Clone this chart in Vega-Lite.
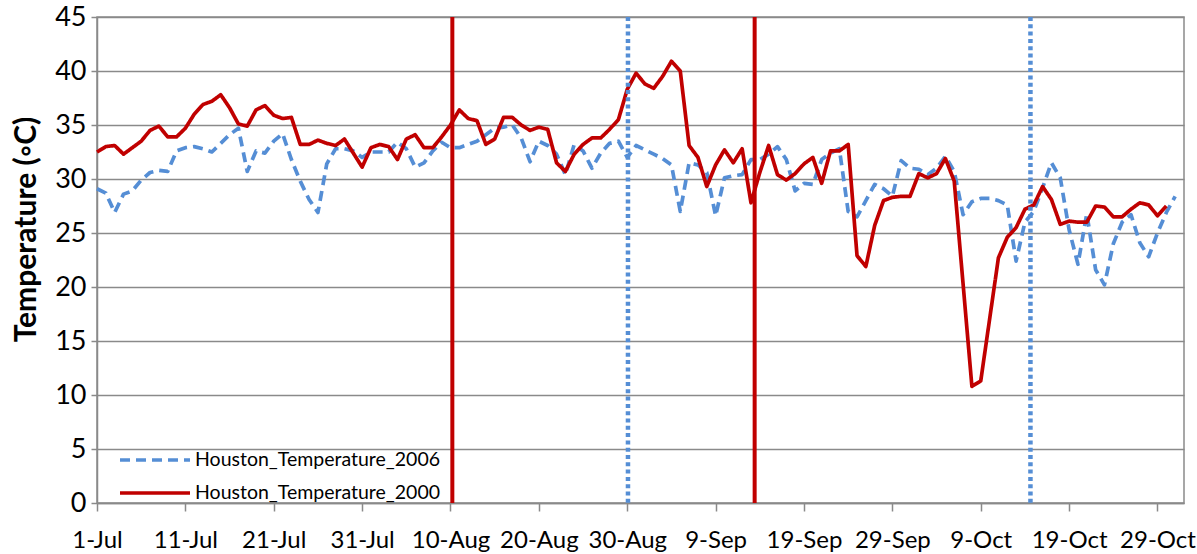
{
  "$schema": "https://vega.github.io/schema/vega-lite/v6.json",
  "width": 1087,
  "height": 486,
  "autosize": {"type": "none"},
  "padding": {"left": 97, "top": 17, "right": 13, "bottom": 51},
  "background": "white",
  "config": {
    "font": "Lato",
    "view": {"stroke": "#8a8a8a", "strokeWidth": 1.5},
    "axis": {"labelFont": "Lato", "labelColor": "#000", "domainColor": "#8a8a8a", "domainWidth": 1.5, "tickColor": "#8a8a8a", "tickWidth": 1.5, "gridColor": "#8a8a8a", "gridWidth": 1.5}
  },
  "data": {
    "values": [
      {"date": "2000-07-01", "Houston_Temperature_2006": 29.1, "Houston_Temperature_2000": 32.5},
      {"date": "2000-07-02", "Houston_Temperature_2006": 28.7, "Houston_Temperature_2000": 33.0},
      {"date": "2000-07-03", "Houston_Temperature_2006": 26.9, "Houston_Temperature_2000": 33.1},
      {"date": "2000-07-04", "Houston_Temperature_2006": 28.6, "Houston_Temperature_2000": 32.3},
      {"date": "2000-07-05", "Houston_Temperature_2006": 28.9, "Houston_Temperature_2000": 32.9},
      {"date": "2000-07-06", "Houston_Temperature_2006": 29.9, "Houston_Temperature_2000": 33.5},
      {"date": "2000-07-07", "Houston_Temperature_2006": 30.6, "Houston_Temperature_2000": 34.5},
      {"date": "2000-07-08", "Houston_Temperature_2006": 30.8, "Houston_Temperature_2000": 34.9},
      {"date": "2000-07-09", "Houston_Temperature_2006": 30.7, "Houston_Temperature_2000": 33.9},
      {"date": "2000-07-10", "Houston_Temperature_2006": 32.6, "Houston_Temperature_2000": 33.9},
      {"date": "2000-07-11", "Houston_Temperature_2006": 32.9, "Houston_Temperature_2000": 34.7},
      {"date": "2000-07-12", "Houston_Temperature_2006": 33.0, "Houston_Temperature_2000": 36.0},
      {"date": "2000-07-13", "Houston_Temperature_2006": 32.8, "Houston_Temperature_2000": 36.9},
      {"date": "2000-07-14", "Houston_Temperature_2006": 32.5, "Houston_Temperature_2000": 37.2},
      {"date": "2000-07-15", "Houston_Temperature_2006": 33.3, "Houston_Temperature_2000": 37.8},
      {"date": "2000-07-16", "Houston_Temperature_2006": 34.1, "Houston_Temperature_2000": 36.6},
      {"date": "2000-07-17", "Houston_Temperature_2006": 34.7, "Houston_Temperature_2000": 35.1},
      {"date": "2000-07-18", "Houston_Temperature_2006": 30.7, "Houston_Temperature_2000": 34.9},
      {"date": "2000-07-19", "Houston_Temperature_2006": 32.6, "Houston_Temperature_2000": 36.4},
      {"date": "2000-07-20", "Houston_Temperature_2006": 32.4, "Houston_Temperature_2000": 36.8},
      {"date": "2000-07-21", "Houston_Temperature_2006": 33.5, "Houston_Temperature_2000": 35.9},
      {"date": "2000-07-22", "Houston_Temperature_2006": 34.2, "Houston_Temperature_2000": 35.6},
      {"date": "2000-07-23", "Houston_Temperature_2006": 31.8, "Houston_Temperature_2000": 35.7},
      {"date": "2000-07-24", "Houston_Temperature_2006": 29.8, "Houston_Temperature_2000": 33.2},
      {"date": "2000-07-25", "Houston_Temperature_2006": 28.1, "Houston_Temperature_2000": 33.2},
      {"date": "2000-07-26", "Houston_Temperature_2006": 26.9, "Houston_Temperature_2000": 33.6},
      {"date": "2000-07-27", "Houston_Temperature_2006": 31.4, "Houston_Temperature_2000": 33.3},
      {"date": "2000-07-28", "Houston_Temperature_2006": 32.8, "Houston_Temperature_2000": 33.1},
      {"date": "2000-07-29", "Houston_Temperature_2006": 32.8, "Houston_Temperature_2000": 33.7},
      {"date": "2000-07-30", "Houston_Temperature_2006": 32.6, "Houston_Temperature_2000": 32.4},
      {"date": "2000-07-31", "Houston_Temperature_2006": 32.0, "Houston_Temperature_2000": 31.1},
      {"date": "2000-08-01", "Houston_Temperature_2006": 32.5, "Houston_Temperature_2000": 32.9},
      {"date": "2000-08-02", "Houston_Temperature_2006": 32.5, "Houston_Temperature_2000": 33.2},
      {"date": "2000-08-03", "Houston_Temperature_2006": 32.5, "Houston_Temperature_2000": 33.0},
      {"date": "2000-08-04", "Houston_Temperature_2006": 33.4, "Houston_Temperature_2000": 31.8},
      {"date": "2000-08-05", "Houston_Temperature_2006": 32.8, "Houston_Temperature_2000": 33.7},
      {"date": "2000-08-06", "Houston_Temperature_2006": 31.1, "Houston_Temperature_2000": 34.1},
      {"date": "2000-08-07", "Houston_Temperature_2006": 31.5, "Houston_Temperature_2000": 32.9},
      {"date": "2000-08-08", "Houston_Temperature_2006": 32.6, "Houston_Temperature_2000": 32.9},
      {"date": "2000-08-09", "Houston_Temperature_2006": 33.4, "Houston_Temperature_2000": 33.9},
      {"date": "2000-08-10", "Houston_Temperature_2006": 32.9, "Houston_Temperature_2000": 35.0},
      {"date": "2000-08-11", "Houston_Temperature_2006": 32.9, "Houston_Temperature_2000": 36.4},
      {"date": "2000-08-12", "Houston_Temperature_2006": 33.2, "Houston_Temperature_2000": 35.6},
      {"date": "2000-08-13", "Houston_Temperature_2006": 33.5, "Houston_Temperature_2000": 35.4},
      {"date": "2000-08-14", "Houston_Temperature_2006": 34.1, "Houston_Temperature_2000": 33.2},
      {"date": "2000-08-15", "Houston_Temperature_2006": 34.7, "Houston_Temperature_2000": 33.7},
      {"date": "2000-08-16", "Houston_Temperature_2006": 34.8, "Houston_Temperature_2000": 35.7},
      {"date": "2000-08-17", "Houston_Temperature_2006": 35.0, "Houston_Temperature_2000": 35.7},
      {"date": "2000-08-18", "Houston_Temperature_2006": 33.8, "Houston_Temperature_2000": 35.0},
      {"date": "2000-08-19", "Houston_Temperature_2006": 31.6, "Houston_Temperature_2000": 34.5},
      {"date": "2000-08-20", "Houston_Temperature_2006": 33.5, "Houston_Temperature_2000": 34.8},
      {"date": "2000-08-21", "Houston_Temperature_2006": 33.1, "Houston_Temperature_2000": 34.6},
      {"date": "2000-08-22", "Houston_Temperature_2006": 32.3, "Houston_Temperature_2000": 31.5},
      {"date": "2000-08-23", "Houston_Temperature_2006": 30.4, "Houston_Temperature_2000": 30.7},
      {"date": "2000-08-24", "Houston_Temperature_2006": 33.2, "Houston_Temperature_2000": 32.3},
      {"date": "2000-08-25", "Houston_Temperature_2006": 32.6, "Houston_Temperature_2000": 33.2},
      {"date": "2000-08-26", "Houston_Temperature_2006": 31.0, "Houston_Temperature_2000": 33.8},
      {"date": "2000-08-27", "Houston_Temperature_2006": 32.4, "Houston_Temperature_2000": 33.8},
      {"date": "2000-08-28", "Houston_Temperature_2006": 33.3, "Houston_Temperature_2000": 34.6},
      {"date": "2000-08-29", "Houston_Temperature_2006": 33.5, "Houston_Temperature_2000": 35.5},
      {"date": "2000-08-30", "Houston_Temperature_2006": 32.0, "Houston_Temperature_2000": 38.3},
      {"date": "2000-08-31", "Houston_Temperature_2006": 33.1, "Houston_Temperature_2000": 39.8},
      {"date": "2000-09-01", "Houston_Temperature_2006": 32.7, "Houston_Temperature_2000": 38.8},
      {"date": "2000-09-02", "Houston_Temperature_2006": 32.3, "Houston_Temperature_2000": 38.4},
      {"date": "2000-09-03", "Houston_Temperature_2006": 31.9, "Houston_Temperature_2000": 39.5},
      {"date": "2000-09-04", "Houston_Temperature_2006": 31.3, "Houston_Temperature_2000": 40.9},
      {"date": "2000-09-05", "Houston_Temperature_2006": 27.0, "Houston_Temperature_2000": 40.0},
      {"date": "2000-09-06", "Houston_Temperature_2006": 31.5, "Houston_Temperature_2000": 33.1},
      {"date": "2000-09-07", "Houston_Temperature_2006": 31.3, "Houston_Temperature_2000": 32.0},
      {"date": "2000-09-08", "Houston_Temperature_2006": 30.6, "Houston_Temperature_2000": 29.3},
      {"date": "2000-09-09", "Houston_Temperature_2006": 26.6, "Houston_Temperature_2000": 31.3},
      {"date": "2000-09-10", "Houston_Temperature_2006": 30.1, "Houston_Temperature_2000": 32.7},
      {"date": "2000-09-11", "Houston_Temperature_2006": 30.3, "Houston_Temperature_2000": 31.5},
      {"date": "2000-09-12", "Houston_Temperature_2006": 30.4, "Houston_Temperature_2000": 32.8},
      {"date": "2000-09-13", "Houston_Temperature_2006": 31.8, "Houston_Temperature_2000": 27.8},
      {"date": "2000-09-14", "Houston_Temperature_2006": 31.8, "Houston_Temperature_2000": 30.6},
      {"date": "2000-09-15", "Houston_Temperature_2006": 32.3, "Houston_Temperature_2000": 33.1},
      {"date": "2000-09-16", "Houston_Temperature_2006": 33.0, "Houston_Temperature_2000": 30.4},
      {"date": "2000-09-17", "Houston_Temperature_2006": 31.8, "Houston_Temperature_2000": 29.9},
      {"date": "2000-09-18", "Houston_Temperature_2006": 28.9, "Houston_Temperature_2000": 30.5},
      {"date": "2000-09-19", "Houston_Temperature_2006": 29.6, "Houston_Temperature_2000": 31.4},
      {"date": "2000-09-20", "Houston_Temperature_2006": 29.5, "Houston_Temperature_2000": 32.0},
      {"date": "2000-09-21", "Houston_Temperature_2006": 31.8, "Houston_Temperature_2000": 29.6},
      {"date": "2000-09-22", "Houston_Temperature_2006": 32.4, "Houston_Temperature_2000": 32.6},
      {"date": "2000-09-23", "Houston_Temperature_2006": 32.8, "Houston_Temperature_2000": 32.6},
      {"date": "2000-09-24", "Houston_Temperature_2006": 27.0, "Houston_Temperature_2000": 33.2},
      {"date": "2000-09-25", "Houston_Temperature_2006": 26.5, "Houston_Temperature_2000": 22.9},
      {"date": "2000-09-26", "Houston_Temperature_2006": 28.0, "Houston_Temperature_2000": 21.9},
      {"date": "2000-09-27", "Houston_Temperature_2006": 29.5, "Houston_Temperature_2000": 25.7},
      {"date": "2000-09-28", "Houston_Temperature_2006": 29.1, "Houston_Temperature_2000": 28.0},
      {"date": "2000-09-29", "Houston_Temperature_2006": 28.4, "Houston_Temperature_2000": 28.3},
      {"date": "2000-09-30", "Houston_Temperature_2006": 31.7, "Houston_Temperature_2000": 28.4},
      {"date": "2000-10-01", "Houston_Temperature_2006": 31.0, "Houston_Temperature_2000": 28.4},
      {"date": "2000-10-02", "Houston_Temperature_2006": 30.9, "Houston_Temperature_2000": 30.5},
      {"date": "2000-10-03", "Houston_Temperature_2006": 30.4, "Houston_Temperature_2000": 30.1},
      {"date": "2000-10-04", "Houston_Temperature_2006": 31.0, "Houston_Temperature_2000": 30.5},
      {"date": "2000-10-05", "Houston_Temperature_2006": 32.1, "Houston_Temperature_2000": 31.9},
      {"date": "2000-10-06", "Houston_Temperature_2006": 30.7, "Houston_Temperature_2000": 29.8},
      {"date": "2000-10-07", "Houston_Temperature_2006": 26.7, "Houston_Temperature_2000": 20.3},
      {"date": "2000-10-08", "Houston_Temperature_2006": 27.9, "Houston_Temperature_2000": 10.8},
      {"date": "2000-10-09", "Houston_Temperature_2006": 28.2, "Houston_Temperature_2000": 11.3},
      {"date": "2000-10-10", "Houston_Temperature_2006": 28.2, "Houston_Temperature_2000": 17.0},
      {"date": "2000-10-11", "Houston_Temperature_2006": 28.0, "Houston_Temperature_2000": 22.7},
      {"date": "2000-10-12", "Houston_Temperature_2006": 27.6, "Houston_Temperature_2000": 24.6},
      {"date": "2000-10-13", "Houston_Temperature_2006": 22.4, "Houston_Temperature_2000": 25.5},
      {"date": "2000-10-14", "Houston_Temperature_2006": 26.0, "Houston_Temperature_2000": 27.2},
      {"date": "2000-10-15", "Houston_Temperature_2006": 27.0, "Houston_Temperature_2000": 27.6},
      {"date": "2000-10-16", "Houston_Temperature_2006": 29.2, "Houston_Temperature_2000": 29.3},
      {"date": "2000-10-17", "Houston_Temperature_2006": 31.5, "Houston_Temperature_2000": 28.1},
      {"date": "2000-10-18", "Houston_Temperature_2006": 30.1, "Houston_Temperature_2000": 25.8},
      {"date": "2000-10-19", "Houston_Temperature_2006": 25.3, "Houston_Temperature_2000": 26.1},
      {"date": "2000-10-20", "Houston_Temperature_2006": 22.1, "Houston_Temperature_2000": 26.0},
      {"date": "2000-10-21", "Houston_Temperature_2006": 26.8, "Houston_Temperature_2000": 26.0},
      {"date": "2000-10-22", "Houston_Temperature_2006": 21.6, "Houston_Temperature_2000": 27.5},
      {"date": "2000-10-23", "Houston_Temperature_2006": 20.2, "Houston_Temperature_2000": 27.4},
      {"date": "2000-10-24", "Houston_Temperature_2006": 24.0, "Houston_Temperature_2000": 26.5},
      {"date": "2000-10-25", "Houston_Temperature_2006": 26.0, "Houston_Temperature_2000": 26.5},
      {"date": "2000-10-26", "Houston_Temperature_2006": 26.7, "Houston_Temperature_2000": 27.2},
      {"date": "2000-10-27", "Houston_Temperature_2006": 24.1, "Houston_Temperature_2000": 27.8},
      {"date": "2000-10-28", "Houston_Temperature_2006": 22.8, "Houston_Temperature_2000": 27.6},
      {"date": "2000-10-29", "Houston_Temperature_2006": 25.0, "Houston_Temperature_2000": 26.6},
      {"date": "2000-10-30", "Houston_Temperature_2006": 26.9, "Houston_Temperature_2000": 27.5},
      {"date": "2000-10-31", "Houston_Temperature_2006": 28.4, "Houston_Temperature_2000": null}
    ],
    "format": {"parse": {"date": "date:'%Y-%m-%d'"}}
  },
  "transform": [
    {"fold": ["Houston_Temperature_2006", "Houston_Temperature_2000"], "as": ["series", "temp"]}
  ],
  "encoding": {
    "x": {
      "field": "date", "type": "temporal",
      "scale": {"domain": [{"year": 2000, "month": 7, "date": 1}, {"year": 2000, "month": 11, "date": 1}]},
      "axis": {
        "title": null, "format": "%-d-%b", "labelFontSize": 24, "labelPadding": 17, "tickSize": 8, "grid": false,
        "labelFlush": false, "labelOverlap": false,
        "values": [
          {"year": 2000, "month": 7, "date": 1}, {"year": 2000, "month": 7, "date": 11}, {"year": 2000, "month": 7, "date": 21},
          {"year": 2000, "month": 7, "date": 31}, {"year": 2000, "month": 8, "date": 10}, {"year": 2000, "month": 8, "date": 20},
          {"year": 2000, "month": 8, "date": 30}, {"year": 2000, "month": 9, "date": 9}, {"year": 2000, "month": 9, "date": 19},
          {"year": 2000, "month": 9, "date": 29}, {"year": 2000, "month": 10, "date": 9}, {"year": 2000, "month": 10, "date": 19},
          {"year": 2000, "month": 10, "date": 29}
        ]
      }
    },
    "y": {
      "field": "temp", "type": "quantitative",
      "scale": {"domain": [0, 45], "nice": false, "zero": true},
      "axis": {
        "title": "Temperature (◦C)", "titleFont": "Lato", "titleFontSize": 30, "titleFontWeight": "bold", "titleColor": "#000",
        "titleX": -71, "titleY": 212, "titleBaseline": "middle", "titleAlign": "center", "titleAngle": -90,
        "values": [0, 5, 10, 15, 20, 25, 30, 35, 40, 45], "labelFontSize": 27, "tickSize": 6, "labelPadding": 5, "grid": true
      }
    },
    "color": {
      "field": "series", "type": "nominal",
      "scale": {"domain": ["Houston_Temperature_2006", "Houston_Temperature_2000"], "range": ["#558ED5", "#C00000"]},
      "legend": {
        "title": null, "orient": "none", "legendX": 21, "legendY": 427, "symbolType": "M-1,0H4", "symbolSize": 784,
        "symbolStrokeWidth": 3.7, "symbolFillColor": "transparent", "labelFont": "Lato", "labelFontSize": 19.5, "labelColor": "#000", "labelOffset": 45,
        "rowPadding": 7, "padding": 0, "labelLimit": 400
      }
    },
    "strokeDash": {
      "field": "series", "type": "nominal",
      "scale": {"domain": ["Houston_Temperature_2006", "Houston_Temperature_2000"], "range": [[10, 6], [1, 0]]},
      "legend": {
        "title": null, "orient": "none", "legendX": 21, "legendY": 427, "symbolType": "M-1,0H4", "symbolSize": 784,
        "symbolStrokeWidth": 3.7, "symbolFillColor": "transparent", "labelFont": "Lato", "labelFontSize": 19.5, "labelColor": "#000", "labelOffset": 45,
        "rowPadding": 7, "padding": 0, "labelLimit": 400
      }
    }
  },
  "layer": [
    {
      "transform": [{"filter": "datum.series === 'Houston_Temperature_2006'"}],
      "mark": {"type": "line", "strokeWidth": 3.7, "strokeJoin": "round"}
    },
    {
      "transform": [{"filter": "datum.series === 'Houston_Temperature_2000'"}],
      "mark": {"type": "line", "strokeWidth": 3.7, "strokeJoin": "round"}
    },
    {
      "data": {
        "values": [{"date": "2000-08-10 05:00"}, {"date": "2000-09-13 10:00"}],
        "format": {"parse": {"date": "date:'%Y-%m-%d %H:%M'"}}
      },
      "mark": {"type": "rule", "color": "#C00000", "strokeWidth": 4},
      "encoding": {"x": {"field": "date", "type": "temporal"}, "y": null, "color": null, "strokeDash": null}
    },
    {
      "data": {
        "values": [{"date": "2000-08-30 02:00"}, {"date": "2000-10-14 15:00"}],
        "format": {"parse": {"date": "date:'%Y-%m-%d %H:%M'"}}
      },
      "mark": {"type": "rule", "color": "#558ED5", "strokeWidth": 4.5, "strokeDash": [4, 3.3]},
      "encoding": {"x": {"field": "date", "type": "temporal"}, "y": null, "color": null, "strokeDash": null}
    }
  ]
}
